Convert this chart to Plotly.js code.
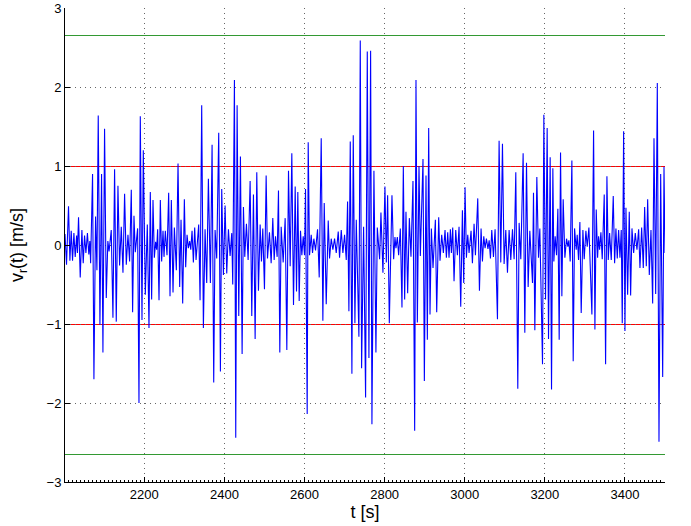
<!DOCTYPE html>
<html>
<head>
<meta charset="utf-8">
<script src="https://cdn.plot.ly/plotly-3.0.1.min.js"></script>
<style>
  html, body { margin: 0; padding: 0; background: #fff; }
  #chart { width: 691px; height: 526px; }
  #chart .shapelayer path { shape-rendering: crispEdges; }
</style>
</head>
<body>
<div id="chart"></div>
<script>
// radial velocity record v_r(t)
const tSec = [
  2002, 2005.8, 2010.8, 2014.2, 2017.5, 2020.8, 2024.2, 2027.5, 2031, 2033, 2035.8, 2040,
  2044.2, 2047.5, 2050.8, 2054.2, 2058, 2061.5, 2064, 2066, 2070.8, 2074.2, 2078.3, 2081.7,
  2085, 2089.2, 2093.3, 2096.7, 2100.8, 2105, 2109, 2112, 2117.5, 2121.7, 2125.8, 2130,
  2134.2, 2138.3, 2142.5, 2146.7, 2150.8, 2155, 2159.2, 2163.3, 2167.5, 2170.8, 2174.2, 2177.5,
  2183.3, 2186.7, 2190,
  2194.2, 2197.5, 2202.5, 2207.5, 2211.7, 2215, 2218.3, 2221.7, 2225, 2228.3, 2230.8, 2233.3,
  2236.7, 2240, 2243.3, 2246.7, 2249.2, 2252.5, 2256.7, 2260.8, 2264.2, 2267.5, 2271.7, 2275,
  2280, 2284.2, 2288.3, 2291.7, 2295.8, 2300, 2303.3, 2306.7, 2310, 2313.3, 2316, 2319.2,
  2322.5, 2325.8, 2329.2, 2335.8, 2339.2, 2343.3, 2347.5, 2351.7, 2355.8, 2360, 2365, 2369.2,
  2373.3, 2376.7, 2380.8,
  2385.8, 2390, 2393.3, 2397.5, 2401.7, 2405.8, 2410, 2414.2, 2418.3, 2420.8, 2425, 2428.3,
  2431.7, 2435.8, 2440, 2444.2, 2447.5, 2450.8, 2455, 2459.2, 2464.2, 2468.3, 2472.5, 2476.7,
  2480.8, 2485, 2489.2, 2492.5, 2495.8, 2500, 2504.2, 2507.5, 2512.5, 2516.7, 2520.8, 2524.2,
  2527.5, 2531.7, 2535, 2538.3, 2541.7, 2546.7, 2551.7, 2555.8, 2560, 2564.2, 2568.3, 2572.5,
  2576.7, 2580, 2583.3, 2586.7, 2590, 2593.3, 2596.7, 2600, 2602.5, 2606.7, 2609.2, 2612.5,
  2616.7, 2620, 2623.3, 2627.5, 2632.5, 2636.7, 2641.7, 2645.8, 2649.2, 2654.2, 2659.2, 2662.5,
  2666.7, 2670.8, 2675, 2679.2, 2684.2, 2687.5, 2691.7, 2695.8, 2700, 2704.2, 2707.5, 2710.8,
  2714.2, 2718.3, 2721.7, 2725.8, 2729.2, 2735.8, 2739.2, 2742.5, 2747.5, 2752.5, 2756.7, 2760.8,
  2765, 2768.3, 2773.3, 2778.3, 2781.7, 2787.5, 2790.8, 2795.8, 2800.8, 2804.2, 2807.5, 2811.7,
  2818.3, 2822.5, 2825.8, 2828.3, 2831.7, 2835, 2839.2, 2843.3, 2846.7, 2850, 2853.3, 2857.5,
  2861.7, 2865.8, 2870.8, 2875, 2878.3, 2881.7, 2885.8, 2889.2, 2895.8, 2899.2, 2903.3, 2906.7,
  2910, 2913.3, 2916.7, 2920.8, 2926.7, 2930, 2935, 2938.3, 2942.5, 2946.7, 2950.8,
  2954.2, 2957.5, 2960.8, 2964.2, 2966.7, 2970, 2973.3, 2977.5, 2981.7, 2985.8, 2990, 2994.2,
  2997.5, 3000.8, 3004.2, 3007.5, 3010.8, 3015.8, 3019.2, 3023.3, 3026.7, 3032.5, 3036.7, 3040.8,
  3044.2, 3047.5, 3050.8, 3054.2, 3058, 3061, 3064.2, 3067.5, 3071.7, 3075.8, 3081.7, 3085.8,
  3090, 3094.2, 3098.3, 3102.5, 3106.7, 3110.8, 3115, 3119.2, 3123.3, 3127.5, 3132.5, 3135.8,
  3140,
  3145.8, 3150, 3154.2, 3158.3, 3162.5, 3169.2, 3171.7, 3175, 3180, 3184.2, 3187.5, 3194.2,
  3197.5, 3201.7, 3205.8, 3209.2, 3213.3, 3216.7, 3220, 3222.5, 3225.8, 3229.2, 3232.5, 3235.8,
  3239.2, 3242.5, 3245.8, 3250, 3254.2, 3257.5, 3260, 3263.3, 3267.5, 3270.8, 3274.2, 3278.3,
  3280.8, 3284.2, 3287.5, 3290.8, 3295, 3298.3, 3302.5, 3305.8, 3310, 3317.5, 3321.7, 3325,
  3328.3, 3331.7,
  3334.2, 3336.7, 3340, 3343.3, 3348.3, 3351.7, 3355, 3358.3, 3361.7, 3365.8, 3370.8, 3374.2,
  3377.5, 3380.8, 3384.2, 3387.5, 3390.8, 3393.3, 3396.7, 3400, 3402.5, 3406.7, 3410.8, 3414.2,
  3417.5, 3421.7, 3425.8, 3430, 3434.2, 3437.5, 3441.7, 3445.8, 3449.2, 3453.3, 3456.7, 3460.8,
  3465, 3469.2, 3472.5, 3476.7, 3480.8, 3485, 3489.2, 3494.2, 3497.5, 3500
];

const vr = [
  0.14, -0.25, 0.49, -0.2, 0.18, -0.2, 0.15, -0.15, 0.12, -0.1, 0.35, -0.41,
  0.19, -0.23, 0.12, -0.1, 0.15, -0.12, 0.05, -0.23, 0.9, -1.7, 0.36, -0.32,
  1.64, -1.01, 0.9, -1.36, 1.47, -0.67, 0.05, -0.08, 0.19, -0.92, 0.96, -0.97,
  0.75, -0.26, 0.23, -0.35, 0.65, -0.25, 0.13, -0.21, 0.7, -0.85, 0.37, -0.09,
  0.21, -2.0, 1.63,
  -0.95, 1.2, -0.63, 0.26, -1.05, 0.67, -0.69, 0.57, -0.16, 0.04, -0.06, 0.2,
  -0.7, 0.57, -0.21, 0.18, -0.15, 0.18, -0.13, 0.66, -0.65, 0.57, -0.6, 0.22,
  -0.32, 1.03, -0.53, 0.32, -0.74, 0.58, -0.28, 0.13, -0.04, 0.05, -0.06, 0.18,
  -0.22, 0.22, -0.19, 0.26, -0.7, 1.77, -1.05, 0.2, -0.48, 0.84, -0.48, 1.27,
  -1.74, 0.19, -0.17,
  1.42, -1.6, 0.71, -0.38, 0.5, -0.36, 0.2, -0.14, 0.15, -0.5, 2.09, -2.44,
  1.77, -0.9, 1.12, -1.38, 0.48, -0.15, 0.27, -0.19, 0.81, -0.9, 0.64, -1.19,
  0.92, -0.58, 0.26, -0.21, 0.21, -0.56, 0.88, -0.17, 0.16, -0.23, 0.34, -0.19,
  0.11, -0.15, 0.69, -1.36, 0.23, -0.22, 0.34, -1.33, 0.94, -0.27, 1.16, -0.76,
  0.74, -0.59, 0.67, -0.71, 0.18, -0.13, 0.11, -0.13, 0.71, -2.14, 1.3, -0.13,
  0.13, -0.1, 0.08, -0.07, 0.2, -0.41, 1.35, -0.96, 0.53, -0.75, 0.31, -0.17,
  0.08, -0.06, 0.08, -0.1, 0.17, -0.16, 0.19, -0.1, 0.13, -0.19, 0.55, -0.84,
  1.31, -1.63, 1.39, -0.99, 0.32, -1.16, 2.59, -1.56, 0.23, -1.93, 2.45, -1.43,
  2.46, -2.27, 0.94, -1.36, 0.22, -0.18, 0.41, -0.35, 0.74, -0.22, 0.63, -0.99,
  0.63, -0.18, 0.1, -0.04, 0.1, -0.13, 0.21, -0.79, 1.0, -0.69, 0.42, -0.61,
  0.34, -0.15, 0.81, -2.35, 2.09, -0.98, 1.0, -0.14, 1.09, -1.72, 0.88, -1.2,
  1.48, -0.88, 0.21, -0.29, 0.32, -0.85, 0.35, -0.2, 0.13, -0.1, 0.19,
  -0.16, 0.16, -0.16, 0.2, -0.1, 0.22, -0.46, 0.19, -0.13, 0.23, -0.78, 0.44,
  -0.48, 0.73, -0.16, 0.13, -0.1, 0.18, -0.23, 0.27, -0.13, 0.59, -0.58, 0.21,
  -0.21, 0.11, -0.04, 0.08, -0.05, 0.06, -0.17, 0.19, -0.15, 0.2, -0.94, 1.32,
  -0.22, 1.28, -0.24, 0.19, -0.35, 0.19, -0.19, 0.2, -0.18, 0.92, -1.82, 0.28,
  -0.18,
  1.16, -1.11, 1.04, -0.53, 0.18, -0.48, 0.66, -1.08, 0.86, -0.16, 0.21, -1.51,
  1.65, -0.69, 1.48, -1.19, 1.11, -1.83, 0.97, -0.21, 0.11, -0.13, 0.46, -1.2,
  1.17, -0.65, 0.58, -0.16, 0.08, -0.02, 0.06, -0.21, 1.07, -1.47, 0.21, -0.06,
  0.13, -0.19, 0.29, -0.86, 0.19, -0.18, 0.18, -0.02, 0.22, -0.88, 1.45, -1.07,
  0.45, -0.16,
  0.11, -0.06, 0.16, -0.18, 0.64, -1.51, 0.87, -0.19, 0.15, -0.19, 0.62, -0.23,
  0.21, -0.17, 0.19, -0.16, 0.19, -0.99, 1.44, -1.09, 0.47, -0.63, 0.42, -0.64,
  0.21, -0.1, 0.15, -0.06, 0.2, -0.29, 0.22, -0.29, 0.48, -0.27, 0.58, -0.38,
  0.19, -0.74, 1.35, -0.62, 2.05, -2.49, 0.9, -1.67, 0.99, -0.1
];

// threshold levels drawn across the whole record
const redLevels = [1, -1];
const greenLevels = [2.65, -2.65];

const xLimits = [2002, 3500];
const yLimits = [-3, 3];

const FONT = 'Liberation Sans, Arial, Helvetica, sans-serif';

function levelShapes(levels, color) {
  return levels.map(v => ({
    type: 'line', layer: 'below',
    xref: 'paper', x0: 0, x1: 1,
    yref: 'y', y0: v, y1: v,
    line: { color: color, width: 1 }
  }));
}

const traces = [{
  type: 'scatter',
  mode: 'lines',
  x: tSec,
  y: vr,
  line: { color: '#0000ff', width: 1.1 },
  hoverinfo: 'skip',
  showlegend: false
}];

const axisCommon = {
  showline: true,
  linecolor: '#000',
  linewidth: 1,
  mirror: false,
  ticks: 'inside',
  ticklen: 5,
  tickcolor: '#000',
  showgrid: true,
  gridcolor: '#666',
  griddash: '1px,4px',
  gridwidth: 1,
  zeroline: false,
  tickfont: { family: FONT, size: 13, color: '#000' }
};

const layout = {
  width: 691,
  height: 526,
  paper_bgcolor: '#fff',
  plot_bgcolor: '#fff',
  margin: { l: 65, r: 26, t: 8, b: 44 },
  showlegend: false,
  xaxis: Object.assign({}, axisCommon, {
    range: xLimits,
    tick0: 2000,
    dtick: 200,
    minor: { dtick: 10, tick0: 2000, ticks: 'inside', ticklen: 2, tickcolor: '#000', showgrid: false },
    title: { text: 't [s]', font: { family: FONT, size: 18, color: '#000' }, standoff: 4 }
  }),
  yaxis: Object.assign({}, axisCommon, {
    range: yLimits,
    dtick: 1,
    title: { text: 'v<sub>r</sub>(t) [m/s]', font: { family: FONT, size: 18, color: '#000' }, standoff: 18 }
  }),
  shapes: levelShapes(redLevels, '#ff0000').concat(levelShapes(greenLevels, '#339933'))
};

Plotly.newPlot('chart', traces, layout, { displayModeBar: false, staticPlot: true });
</script>
</body>
</html>
